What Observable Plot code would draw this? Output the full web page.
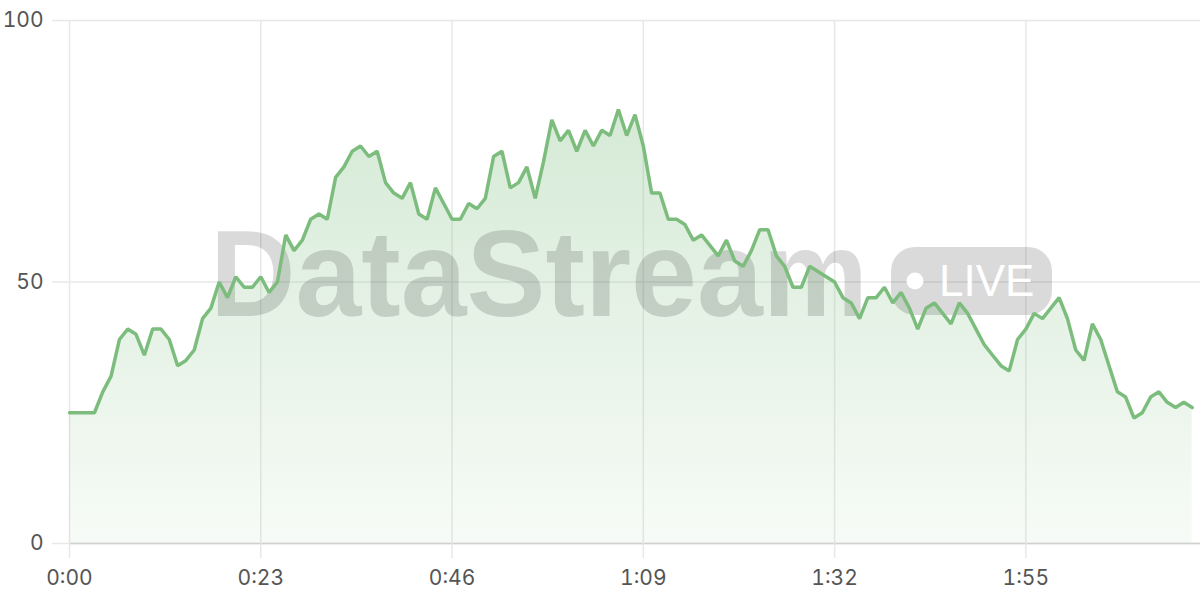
<!DOCTYPE html>
<html>
<head>
<meta charset="utf-8">
<script src="https://cdn.jsdelivr.net/npm/d3@7"></script>
<script src="https://cdn.jsdelivr.net/npm/@observablehq/plot@0.6"></script>
<style>
  html, body { margin: 0; padding: 0; background: #fff; }
  #wrap { position: relative; width: 1200px; height: 600px; }
</style>
</head>
<body>
<div id="wrap"></div>
<script>
// Seconds since start (one sample per second)
const seconds = d3.range(0, 136);
// Values
const values = [
  25,25,25,25,29,32,39,41,40,36,
  41,41,39,34,35,37,43,45,50,47,
  51,49,49,51,48,50,59,56,58,62,
  63,62,70,72,75,76,74,75,69,67,
  66,69,63,62,68,65,62,62,65,64,
  66,74,75,68,69,72,66,73,81,77,
  79,75,79,76,79,78,83,78,82,76,
  67,67,62,62,61,58,59,57,55,58,
  54,53,56,60,60,55,53,49,49,53,
  52,51,50,47,46,43,47,47,49,46,
  48,45,41,45,46,44,42,46,44,41,
  38,36,34,33,39,41,44,43,45,47,
  43,37,35,42,39,34,29,28,24,25,
  28,29,27,26,27,26
];
const xTicks = [0, 23, 46, 69, 92, 115];
const yTicks = [0, 50, 100];
const fmtTime = s => `${Math.floor(s / 60)}:${String(s % 60).padStart(2, "0")}`;

const data = seconds.map((s, i) => ({t: s, v: values[i]}));

const lineColor = "#7cbd7e";
const gridColor = "#e8e8e8";

const chart = Plot.plot({
  width: 1200,
  height: 600,
  marginTop: 20,
  marginBottom: 57,
  marginLeft: 69,
  marginRight: 0,
  style: {background: "#fff", fontFamily: "Inter, 'Noto Sans', sans-serif"},
  x: {domain: [0, 136]},
  y: {domain: [0, 100]},
  marks: [
    Plot.gridX(xTicks, {stroke: gridColor, strokeOpacity: 1, strokeWidth: 1.5}),
    Plot.gridY(yTicks, {stroke: gridColor, strokeOpacity: 1, strokeWidth: 1.5}),
    Plot.areaY(data, {x: "t", y: "v", fill: "url(#areaGrad)", curve: "linear"}),
    Plot.ruleY([0], {stroke: "#d0d0d0", strokeWidth: 1.5}),
    Plot.lineY(data, {x: "t", y: "v", stroke: lineColor, strokeWidth: 3.5, strokeLinejoin: "miter", curve: "linear"}),
    Plot.axisX(xTicks, {
      tickFormat: fmtTime, tickSize: 15, tickPadding: 12,
      stroke: gridColor, strokeOpacity: 1, strokeWidth: 1.5,
      fontSize: 21, fill: "#555", label: null
    }),
    Plot.axisY(yTicks, {
      tickSize: 17, tickPadding: 9,
      stroke: gridColor, strokeOpacity: 1, strokeWidth: 1.5,
      fontSize: 21, fill: "#555", label: null
    })
  ]
});

// gradient definition for the area fill
const svgSel = d3.select(chart);
const defs = svgSel.insert("defs", ":first-child");
const grad = defs.append("linearGradient")
  .attr("id", "areaGrad").attr("x1", 0).attr("y1", 0).attr("x2", 0).attr("y2", 1);
grad.append("stop").attr("offset", "0%").attr("stop-color", "#7cbd7e").attr("stop-opacity", 0.32);
grad.append("stop").attr("offset", "100%").attr("stop-color", "#7cbd7e").attr("stop-opacity", 0.06);

// Watermark placed beneath the line
const lineG = chart.querySelector('g[aria-label="line"]');
const wm = d3.create("svg:g").attr("class", "watermark")
  .attr("text-anchor", "start").style("pointer-events", "none");
wm.append("text")
  .attr("x", 210).attr("y", 316).attr("text-anchor", "start")
  .attr("font-family", "'Liberation Sans', Arial, sans-serif")
  .attr("font-weight", "bold").attr("font-size", 122)
  .attr("textLength", 658).attr("lengthAdjust", "spacingAndGlyphs")
  .attr("fill", "rgba(0,0,0,0.145)")
  .text("DataStream");
wm.append("rect")
  .attr("x", 891).attr("y", 247).attr("width", 161).attr("height", 68).attr("rx", 24)
  .attr("fill", "rgba(0,0,0,0.145)");
wm.append("circle").attr("cx", 915).attr("cy", 281).attr("r", 8.5).attr("fill", "#fff");
wm.append("text")
  .attr("x", 939).attr("y", 296).attr("text-anchor", "start")
  .attr("font-family", "'Liberation Sans', Arial, sans-serif")
  .attr("font-size", 44).attr("fill", "#fff")
  .text("LIVE");
if (lineG) chart.insertBefore(wm.node(), lineG); else chart.appendChild(wm.node());

document.getElementById("wrap").appendChild(chart);
</script>
</body>
</html>
